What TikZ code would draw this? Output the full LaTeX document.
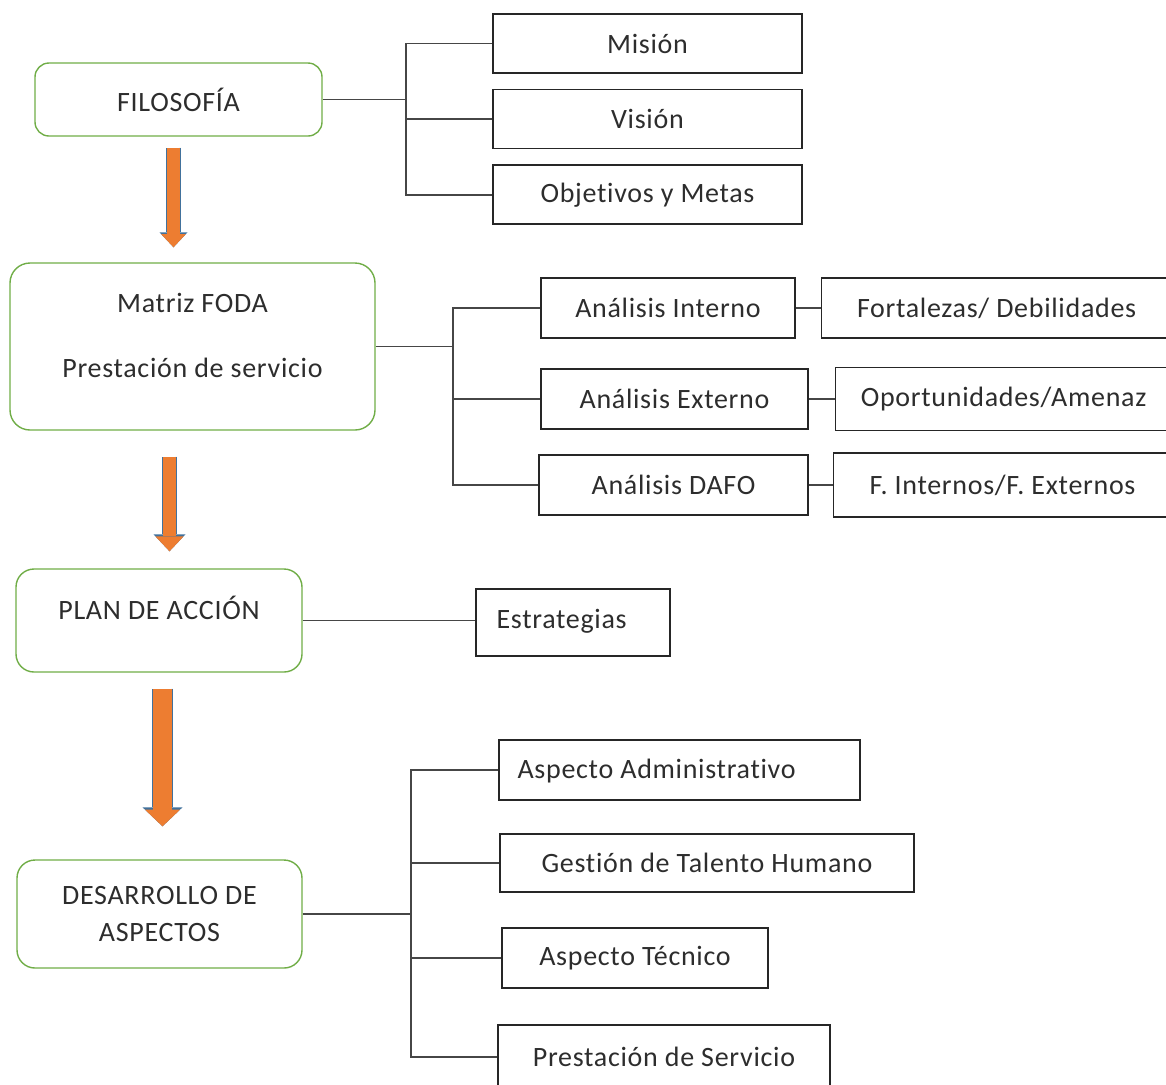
\documentclass[tikz,border=0pt]{standalone}
\usepackage{fontspec}
\setmainfont{Carlito}[Ligatures=NoCommon, LetterSpace=2.5]
\usetikzlibrary{arrows.meta,positioning,calc}

\definecolor{boxgreen}{RGB}{112,173,71}
\definecolor{arroworange}{RGB}{237,125,49}
\definecolor{arrowedge}{RGB}{65,113,156}
\definecolor{linkgray}{RGB}{70,70,70}
\definecolor{txtgray}{RGB}{45,45,45}

\begin{document}
\begin{tikzpicture}[x=0.5pt,y=-0.5pt,
    font=\fontsize{14}{16.8}\selectfont, text=txtgray,
    stage/.style={draw=boxgreen, line width=0.7pt, rounded corners=7pt},
    item/.style={draw=black!85, line width=0.8pt},
    link/.style={draw=linkgray, line width=0.9pt},
    fatarrow/.style n args={3}{preaction={draw=arrowedge, line width=#1,
        -{Triangle[length=#3, width=#2, line width=0pt]}},
        draw=arroworange, line width=#1-1pt,
        -{Triangle[length=#3, width=#2, line width=0pt, scale=0.88]}}]
          \useasboundingbox (0,0) rectangle (1166,1084);

          \node[stage, minimum width=143.5pt, minimum height=36.5pt] (filo) at (178.5,99.5) {FILOSOFÍA};
          \node[stage, rounded corners=10pt, minimum width=182.5pt, minimum height=83.5pt] (matriz) at (192.5,346.5) {};
          \node[align=center] (matrizt) at ($(matriz)+(0,-11)$) {Matriz FODA\\[16pt]Prestación de servicio};
          \node[stage, rounded corners=9pt, minimum width=143pt, minimum height=51.5pt] (plan) at (159,620.5) {};
          \node (plant) at ($(plan)+(0,-13)$) {PLAN DE ACCIÓN};
          \node[stage, rounded corners=9pt, minimum width=142.5pt, minimum height=54pt, align=center,
                font=\fontsize{14}{18.5}\selectfont] (desa) at (159.5,914) {DESARROLLO DE\\ASPECTOS};

          \node[item, minimum width=154.5pt, minimum height=29.5pt] (mision) at (647.5,43.5) {Misión};
          \node[item, minimum width=154.5pt, minimum height=29.5pt] (vision) [below=7.5pt of mision] {Visión};
          \node[item, minimum width=154.5pt, minimum height=29.5pt] (objetivos) [below=7.5pt of vision] {Objetivos y Metas};

          \node[item, minimum width=127pt, minimum height=30pt] (interno) at (668,308) {Análisis Interno};
          \node[item, minimum width=175pt, minimum height=30pt] (fortal) [right=12.5pt of interno] {Fortalezas/ Debilidades};
          \node[item, minimum width=133.5pt, minimum height=30pt] (externo) at (674.5,399) {Análisis Externo};
          \node[item, minimum width=168pt, minimum height=31.5pt] (oport) [right=13pt of externo] {Oportunidades/Amenaz};
          \node[item, minimum width=134.5pt, minimum height=30pt] (dafo) at (673.5,485) {Análisis DAFO};
          \node[item, minimum width=169pt, minimum height=32pt] (finter) [right=12pt of dafo] {F. Internos/F. Externos};

          \node[item, minimum width=97pt, minimum height=33.5pt] (estr) at (573,622.5) {};
          \node[anchor=west, inner xsep=0pt] (estrt) at ($(estr.west)+(21,-1)$) {Estrategias};

          \node[item, minimum width=180.5pt, minimum height=30pt] (adm) at (679.5,770) {};
          \node[anchor=west, inner xsep=0pt] (admt) at ($(adm.west)+(19,1)$) {Aspecto Administrativo};
          \node[item, minimum width=207pt, minimum height=29pt] (gestion) at (707,863) {Gestión de Talento Humano};
          \node[item, minimum width=133pt, minimum height=30pt] (tecnico) at (635,958) {Aspecto Técnico};
          \node[item, minimum width=166pt, minimum height=32pt] (prestserv) at (664,1057) {Prestación de Servicio};

          \draw[link] (filo.east) -- ++(83,0) coordinate (fork1);
          \draw[link] (mision.west) -| (fork1);
          \draw[link] (vision.west) -| (fork1);
          \draw[link] (objetivos.west) -| (fork1);

          \draw[link] (matriz.east) -- ++(77,0) coordinate (fork2);
          \draw[link] (interno.west) -| (fork2);
          \draw[link] (externo.west) -| (fork2);
          \draw[link] (dafo.west) -| (fork2);
          \draw[link] (interno.east) -- (fortal.west);
          \draw[link] (externo.east) -- (externo.east -| oport.west);
          \draw[link] (dafo.east) -- (dafo.east -| finter.west);

          \draw[link] (plan.east) -- (plan.east -| estr.west);

          \draw[link] (desa.east) -- ++(108,0) coordinate (fork3);
          \draw[link] (adm.west) -| (fork3);
          \draw[link] (gestion.west) -| (fork3);
          \draw[link] (tecnico.west) -| (fork3);
          \draw[link] (prestserv.west) -| (fork3);

          \draw[fatarrow={7.5pt}{14pt}{7.5pt}] ($(filo.south)+(-5,11)$) -- ($(matriz.north)+(-19,-15)$);
          \draw[fatarrow={7.5pt}{16pt}{8.5pt}] ($(matriz.south)+(-23,26)$) -- ($(plan.north)+(10.5,-17)$);
          \draw[fatarrow={10.5pt}{20pt}{9.5pt}] ($(plan.south)+(3.5,16)$) -- ($(desa.north)+(3,-33)$);
\end{tikzpicture}
\end{document}
